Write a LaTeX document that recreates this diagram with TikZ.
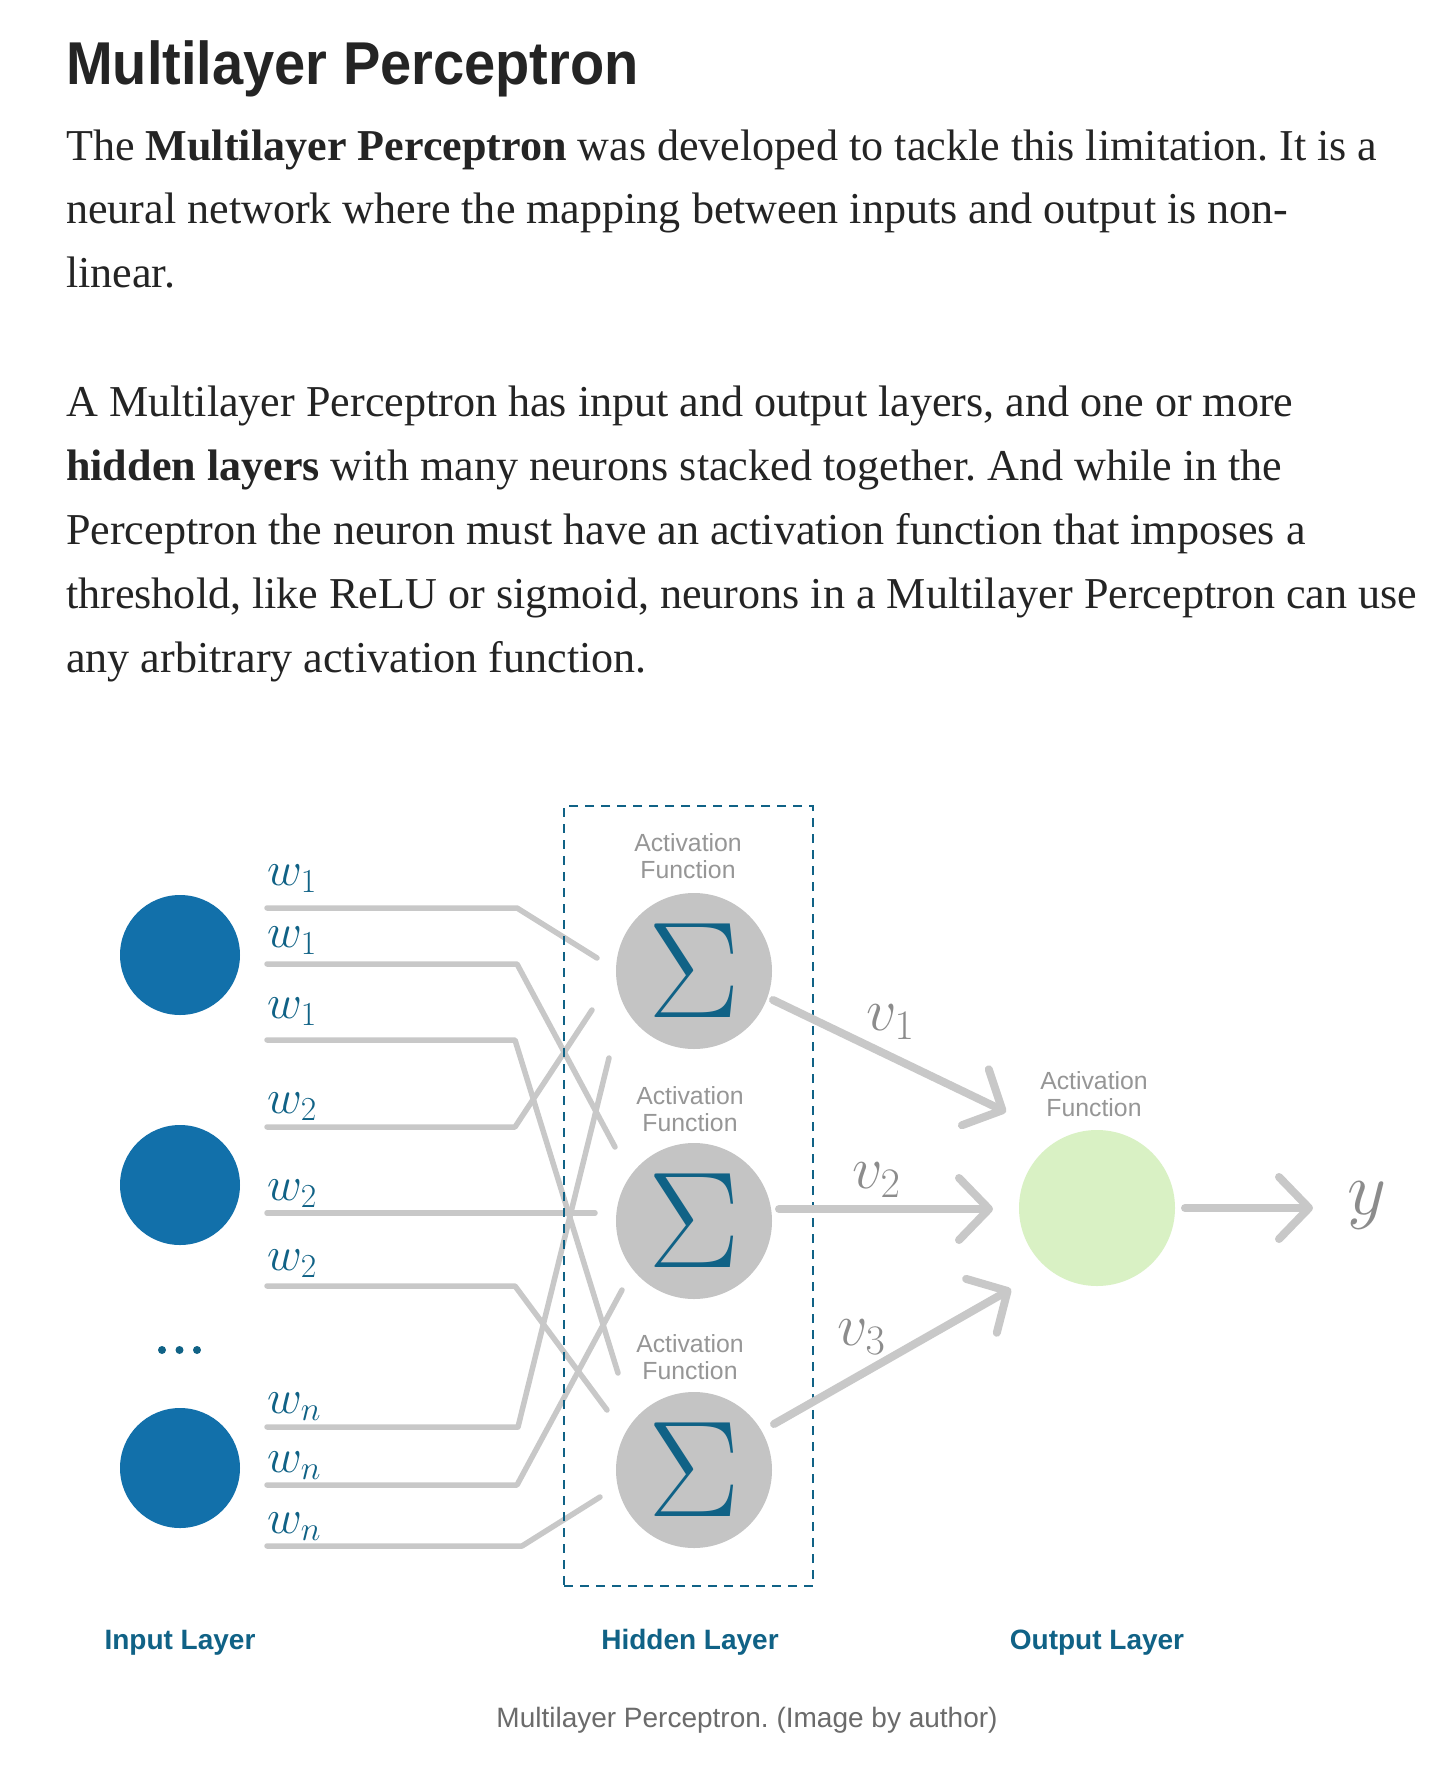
\RequirePackage{fix-cm}
\documentclass[tikz,border=0pt]{standalone}
\usepackage{graphicx}
\usepackage[no-math]{fontspec}
\setmainfont{Liberation Serif}
\setsansfont{Liberation Sans}
\usetikzlibrary{arrows.meta}
\frenchspacing
\definecolor{ink}{RGB}{36,36,36}
\definecolor{inblue}{RGB}{18,112,170}
\definecolor{tealc}{RGB}{16,98,134}
\definecolor{wireg}{RGB}{200,200,200}
\definecolor{nodeg}{RGB}{196,196,196}
\definecolor{outg}{RGB}{217,241,196}
\definecolor{labg}{RGB}{150,150,150}
\definecolor{vlab}{RGB}{140,140,140}
\definecolor{capg}{RGB}{107,107,107}
\tikzset{
  bodytext/.style={anchor=base west, inner sep=0pt, text=ink, font=\fontsize{44.1}{64}\selectfont},
  titletext/.style={anchor=base west, inner sep=0pt, text=ink, font=\sffamily\bfseries\fontsize{56}{60}\selectfont},
  inneuron/.style={circle, fill=inblue, minimum size=120pt, inner sep=0pt},
  hidneuron/.style={circle, fill=nodeg, minimum size=156pt, inner sep=0pt, text=tealc, font=\fontsize{137}{137}\selectfont},
  outneuron/.style={circle, fill=outg, minimum size=156pt, inner sep=0pt},
  wire/.style={draw=wireg, line width=5.5pt, line cap=round, line join=round},
  bigarrow/.style={draw=wireg, line width=8pt, line cap=round, -{Straight Barb[length=30pt, width=62pt, round]}},
  wlab/.style={anchor=base west, inner sep=0pt, text=tealc, font=\fontsize{48}{48}\selectfont},
  vlabel/.style={anchor=base west, inner sep=0pt, text=vlab, font=\fontsize{60}{60}\selectfont},
  actlab/.style={anchor=north, inner sep=0pt, align=center, text=labg, font=\sffamily\fontsize{24.8}{27}\selectfont},
  layerlab/.style={anchor=base, inner sep=0pt, text=tealc, font=\sffamily\bfseries\fontsize{28}{30}\selectfont},
  captext/.style={anchor=base, inner sep=0pt, text=capg, font=\sffamily\fontsize{28}{30}\selectfont},
}
\begin{document}
\begin{tikzpicture}[x=1pt,y=-1pt]
\useasboundingbox (0,0) rectangle (1452,1776);
\fill[white] (0,0) rectangle (1452,1776);

% ---- text ----
\node[titletext] (title) at (66,85) {\scalebox{1}[1.08]{Multilayer Perceptron}};
\node[bodytext] (l1) at (66,161) {The \textbf{Multilayer Perceptron} was developed to tackle this limitation. It is a};
\node[bodytext] (l2) at (66,224) {neural network where the mapping between inputs and output is non-};
\node[bodytext] (l3) at (66,288) {linear.};
\node[bodytext] (l4) at (66,416) {A Multilayer Perceptron has input and output layers, and one or more};
\node[bodytext] (l5) at (66,480) {\textbf{hidden layers} with many neurons stacked together. And while in the};
\node[bodytext] (l6) at (66,544) {Perceptron the neuron must have an activation function that imposes a};
\node[bodytext] (l7) at (66,608) {threshold, like ReLU or sigmoid, neurons in a Multilayer Perceptron can use};
\node[bodytext] (l8) at (66,672) {any arbitrary activation function.};

% ---- neurons ----
\node[inneuron] (i1) at (180,955) {};
\node[inneuron] (i2) at (180,1185) {};
\node[inneuron] (i3) at (180,1468) {};
\fill[tealc] (162,1350) circle (4pt) (179.5,1350) circle (4pt) (197,1350) circle (4pt);

\node[hidneuron] (h1) at (694,971) {$\Sigma$};
\node[hidneuron] (h2) at (694,1221) {$\Sigma$};
\node[hidneuron] (h3) at (694,1470) {$\Sigma$};
\node[outneuron] (o) at (1097,1208) {};

% ---- wire coordinates ----
\coordinate (a1) at (267,908);  \coordinate (k1) at (517,908);  \coordinate (e1) at (597,958);
\coordinate (a2) at (267,964);  \coordinate (k2) at (517,964);  \coordinate (e2) at (615,1147);
\coordinate (a3) at (267,1040); \coordinate (k3) at (515,1040); \coordinate (e3) at (618,1373);
\coordinate (a4) at (267,1127); \coordinate (k4) at (515,1127); \coordinate (e4) at (592,1010);
\coordinate (a5) at (267,1213); \coordinate (e5) at (595,1213);
\coordinate (a6) at (267,1286); \coordinate (k6) at (515,1286); \coordinate (e6) at (607,1410);
\coordinate (a7) at (267,1427); \coordinate (k7) at (518,1427); \coordinate (e7) at (609,1058);
\coordinate (a8) at (267,1485); \coordinate (k8) at (517,1485); \coordinate (e8) at (622,1290);
\coordinate (a9) at (267,1546); \coordinate (k9) at (522,1546); \coordinate (e9) at (600,1497);

\draw[wire] (a1) -- (k1) -- (e1);
\draw[wire] (a2) -- (k2) -- (e2);
\draw[wire] (a3) -- (k3) -- (e3);
\draw[wire] (a4) -- (k4) -- (e4);
\draw[wire] (a5) -- (e5);
\draw[wire] (a6) -- (k6) -- (e6);
\draw[wire] (a7) -- (k7) -- (e7);
\draw[wire] (a8) -- (k8) -- (e8);
\draw[wire] (a9) -- (k9) -- (e9);

% ---- hidden layer box ----
\node[draw=tealc, line width=2.5pt, dash pattern=on 9pt off 7pt, minimum width=249pt, minimum height=780pt, inner sep=0pt] (hbox) at (688.5,1196) {};

% ---- weight labels ----
\node[wlab] (w11) at (267,885) {$w_1$};
\node[wlab] (w12) at (267,947) {$w_1$};
\node[wlab] (w13) at (267,1018) {$w_1$};
\node[wlab] (w21) at (267,1113) {$w_2$};
\node[wlab] (w22) at (267,1200) {$w_2$};
\node[wlab] (w23) at (267,1270) {$w_2$};
\node[wlab] (wn1) at (267,1413) {$w_n$};
\node[wlab] (wn2) at (267,1472) {$w_n$};
\node[wlab] (wn3) at (267,1533) {$w_n$};

% ---- activation labels ----
\node[actlab] (act1) at (688,833) {Activation\\Function};
\node[actlab] (act2) at (690,1086) {Activation\\Function};
\node[actlab] (act3) at (690,1334) {Activation\\Function};
\node[actlab] (act4) at (1094,1071) {Activation\\Function};

% ---- output arrows ----
\coordinate (s1) at (773,1000); \coordinate (t1) at (1006,1112);
\coordinate (s2) at (779,1209); \coordinate (t2) at (993,1209);
\coordinate (s3) at (774,1424); \coordinate (t3) at (1011,1289);
\coordinate (s4) at (1185,1208); \coordinate (t4) at (1313,1208);
\draw[bigarrow] (s1) -- (t1);
\draw[bigarrow] (s2) -- (t2);
\draw[bigarrow] (s3) -- (t3);
\draw[bigarrow] (s4) -- (t4);

\node[vlabel] (v1) at (866,1030) {$v_1$};
\node[vlabel] (v2) at (852,1188) {$v_2$};
\node[vlabel] (v3) at (837,1345) {$v_3$};
\node[vlabel, font=\fontsize{76}{76}\selectfont] (yout) at (1347,1214) {$y$};

% ---- layer labels & caption ----
\node[layerlab] (inlab) at (180,1649) {Input Layer};
\node[layerlab] (hidlab) at (690,1649) {Hidden Layer};
\node[layerlab] (outlab) at (1097,1649) {Output Layer};
\node[captext] (cap) at (747,1727) {Multilayer Perceptron. (Image by author)};
\end{tikzpicture}
\end{document}
